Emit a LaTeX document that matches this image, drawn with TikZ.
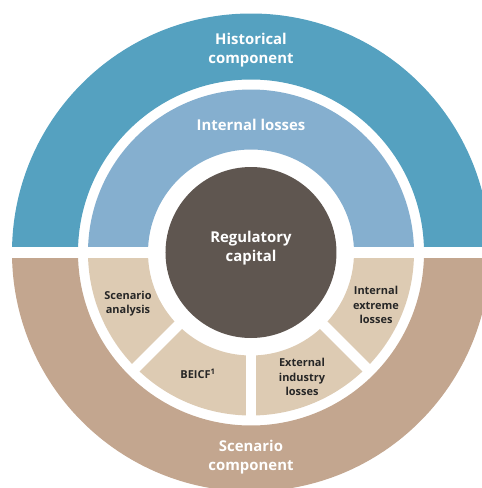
\documentclass[tikz,border=0pt]{standalone}
\usepackage{fontspec}
\setmainfont{Open Sans}
\usetikzlibrary{positioning}
\definecolor{histblue}{HTML}{55A1C0}
\definecolor{lossblue}{HTML}{85AFCF}
\definecolor{scentan}{HTML}{C3A68F}
\definecolor{parttan}{HTML}{DDCBB3}
\definecolor{capbrown}{HTML}{5F5650}
\tikzstyle{biglabel} = [text=white, text centered, align=center, font=\bfseries\fontsize{10.6}{13.5}\selectfont]
\tikzstyle{smalllabel} = [text=black!85, text centered, align=center, font=\bfseries\fontsize{7.8}{10}\selectfont]
\tikzstyle{gap} = [draw=white, line width=0.26cm]
\newcommand{\biglabel}[2]{node (b#1) [biglabel] {#2}}
\newcommand{\smalllabel}[2]{node (s#1) [smalllabel] {#2}}
% annular sector: inner radius, outer radius, start, end, colour
\newcommand{\ringpart}[5]{%
\fill[#5] (#3:#2) arc (#3:#4:#2) -- (#4:#1) arc (#4:#3:#1) -- cycle;}

\begin{document}
\begin{tikzpicture}
\clip (-6.275,-5.8875) rectangle (5.775,6.3125);
\useasboundingbox (-6.275,-5.8875) rectangle (5.775,6.3125);
% outer ring
\ringpart{4.325}{5.975}{0}{180}{histblue}
\ringpart{4.325}{5.975}{180}{360}{scentan}
% inner ring
\ringpart{2.575}{4.075}{0}{180}{lossblue}
\ringpart{2.575}{4.075}{180}{360}{parttan}
% white gaps
\path[gap, line width=0.275cm] (-6.4,0) -- (5.9,0);
\foreach \a in {225,270,315}
  \path[gap] (\a:2.4) -- (\a:4.2);
% centre
\fill[capbrown] (0,0) circle (2.1375);

\path (0,5.05) \biglabel{1}{Historical\\component};
\path (0,3.19) \biglabel{2}{Internal losses};
\path (0,0.1) \biglabel{3}{Regulatory\\capital};
\path (0,-5.125) \biglabel{4}{Scenario\\component};
\path (-3.075,-1.29) \smalllabel{1}{Scenario\\analysis};
\path (-1.325,-3.04) \smalllabel{2}{BEICF\textsuperscript{1}};
\path (1.275,-3.11) \smalllabel{3}{External\\industry\\losses};
\path (3.125,-1.31) \smalllabel{4}{Internal\\extreme\\losses};
\end{tikzpicture}
\end{document}
